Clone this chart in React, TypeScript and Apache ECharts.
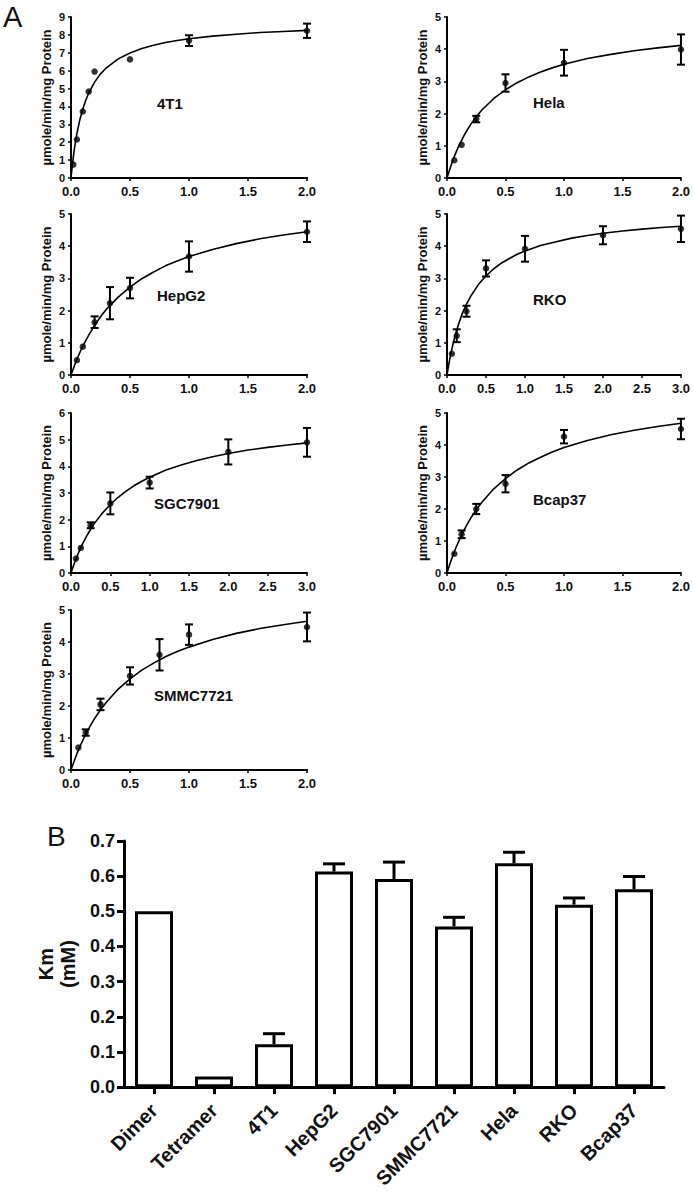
import React, { useEffect, useRef } from "react";
import * as echarts from "echarts";

const FONT = "'Liberation Sans', Arial, Helvetica, sans-serif";

// ---------- Panel A : measured points ----------
const t1X = [0.02, 0.05, 0.1, 0.15, 0.2, 0.5, 1, 2];
const t1Y = [0.75, 2.15, 3.72, 4.83, 5.95, 6.63, 7.68, 8.23];
const t1Err = [0, 0, 0, 0, 0, 0, 0.3, 0.4];

const helaX = [0.0625, 0.125, 0.25, 0.5, 1, 2];
const helaY = [0.55, 1.03, 1.83, 2.95, 3.58, 3.99];
const helaErr = [0, 0, 0.1, 0.27, 0.4, 0.47];

const hepX = [0.05, 0.1, 0.2, 0.33, 0.5, 1, 2];
const hepY = [0.46, 0.88, 1.64, 2.23, 2.7, 3.68, 4.45];
const hepErr = [0, 0, 0.18, 0.5, 0.32, 0.47, 0.32];

const rkoX = [0.0625, 0.125, 0.25, 0.5, 1, 2, 3];
const rkoY = [0.66, 1.22, 1.98, 3.31, 3.92, 4.34, 4.54];
const rkoErr = [0, 0.2, 0.17, 0.25, 0.4, 0.28, 0.41];

const sgcX = [0.0625, 0.125, 0.25, 0.5, 1, 2, 3];
const sgcY = [0.54, 0.94, 1.79, 2.61, 3.39, 4.54, 4.9];
const sgcErr = [0, 0, 0.11, 0.41, 0.22, 0.47, 0.54];

const bcapX = [0.0625, 0.125, 0.25, 0.5, 1, 2];
const bcapY = [0.6, 1.21, 2.0, 2.79, 4.26, 4.5];
const bcapErr = [0, 0.12, 0.16, 0.27, 0.21, 0.32];

const smmcX = [0.0625, 0.125, 0.25, 0.5, 0.75, 1, 2];
const smmcY = [0.7, 1.17, 2.05, 2.94, 3.6, 4.23, 4.47];
const smmcErr = [0, 0.1, 0.18, 0.27, 0.49, 0.32, 0.45];

// ---------- Panel A : fitted curves ----------
const t1FitX = [0, 0.01, 0.02, 0.03, 0.04, 0.05, 0.075, 0.1, 0.125, 0.15, 0.2, 0.25, 0.3, 0.4, 0.5, 0.6, 0.7, 0.8, 0.9, 1.0, 1.2, 1.4, 1.6, 1.8, 2.0];
const t1FitY = [0, 0.64, 1.19, 1.68, 2.1, 2.48, 3.26, 3.86, 4.35, 4.75, 5.36, 5.82, 6.16, 6.66, 6.99, 7.24, 7.42, 7.57, 7.69, 7.78, 7.93, 8.04, 8.13, 8.19, 8.25];

const fitX2 = [0, 0.025, 0.05, 0.075, 0.1, 0.15, 0.2, 0.25, 0.3, 0.4, 0.5, 0.6, 0.7, 0.8, 0.9, 1.0, 1.2, 1.4, 1.6, 1.8, 2.0];
const fitX3 = [0, 0.025, 0.05, 0.075, 0.1, 0.15, 0.2, 0.25, 0.3, 0.4, 0.5, 0.6, 0.7, 0.8, 0.9, 1.0, 1.2, 1.4, 1.6, 1.8, 2.0, 2.25, 2.5, 2.75, 3.0];

const helaFitY = [0, 0.29, 0.55, 0.78, 0.99, 1.35, 1.65, 1.9, 2.12, 2.47, 2.74, 2.96, 3.14, 3.29, 3.42, 3.53, 3.71, 3.84, 3.95, 4.04, 4.12];
const hepFitY = [0, 0.25, 0.49, 0.7, 0.9, 1.24, 1.54, 1.81, 2.04, 2.42, 2.73, 2.99, 3.2, 3.39, 3.54, 3.68, 3.9, 4.08, 4.23, 4.35, 4.45];
const bcapFitY = [0, 0.29, 0.54, 0.78, 0.99, 1.37, 1.7, 1.98, 2.22, 2.63, 2.95, 3.22, 3.44, 3.62, 3.78, 3.92, 4.14, 4.32, 4.46, 4.58, 4.68];
const smmcFitY = [0, 0.26, 0.51, 0.73, 0.93, 1.29, 1.61, 1.88, 2.12, 2.53, 2.85, 3.12, 3.34, 3.54, 3.7, 3.84, 4.08, 4.27, 4.42, 4.54, 4.65];
const rkoFitY = [0, 0.36, 0.67, 0.94, 1.19, 1.59, 1.93, 2.2, 2.43, 2.8, 3.08, 3.3, 3.48, 3.62, 3.75, 3.85, 4.02, 4.14, 4.25, 4.33, 4.4, 4.47, 4.53, 4.58, 4.62];
const sgcFitY = [0, 0.22, 0.42, 0.61, 0.79, 1.11, 1.39, 1.64, 1.87, 2.25, 2.57, 2.84, 3.07, 3.27, 3.44, 3.59, 3.85, 4.05, 4.22, 4.36, 4.48, 4.61, 4.71, 4.8, 4.88];

// ---------- Panel B ----------
const kmCategories = ["Dimer", "Tetramer", "4T1", "HepG2", "SGC7901", "SMMC7721", "Hela", "RKO", "Bcap37"];
const kmValues = [0.5, 0.03, 0.122, 0.613, 0.592, 0.457, 0.637, 0.519, 0.563];
const kmErrors = [0, 0, 0.03, 0.022, 0.048, 0.026, 0.031, 0.019, 0.036];
const kmTicks = [0, 0.1, 0.2, 0.3, 0.4, 0.5, 0.6, 0.7];

const Y_NAME = "\u00b5mole/min/mg Protein";

type Panel = {
  label: string;
  xs: number[];
  ys: number[];
  errs: number[];
  fitX: number[];
  fitY: number[];
  xMax: number;
  yMax: number;
};

const panels: Panel[] = [
  { label: "4T1", xs: t1X, ys: t1Y, errs: t1Err, fitX: t1FitX, fitY: t1FitY, xMax: 2, yMax: 9 },
  { label: "Hela", xs: helaX, ys: helaY, errs: helaErr, fitX: fitX2, fitY: helaFitY, xMax: 2, yMax: 5 },
  { label: "HepG2", xs: hepX, ys: hepY, errs: hepErr, fitX: fitX2, fitY: hepFitY, xMax: 2, yMax: 5 },
  { label: "RKO", xs: rkoX, ys: rkoY, errs: rkoErr, fitX: fitX3, fitY: rkoFitY, xMax: 3, yMax: 5 },
  { label: "SGC7901", xs: sgcX, ys: sgcY, errs: sgcErr, fitX: fitX3, fitY: sgcFitY, xMax: 3, yMax: 6 },
  { label: "Bcap37", xs: bcapX, ys: bcapY, errs: bcapErr, fitX: fitX2, fitY: bcapFitY, xMax: 2, yMax: 5 },
  { label: "SMMC7721", xs: smmcX, ys: smmcY, errs: smmcErr, fitX: fitX2, fitY: smmcFitY, xMax: 2, yMax: 5 },
];

// layout
const colLeft = [71, 447];
const colWidth = [236, 237];
const rowTop = [17, 214, 413, 610];
const rowHeight = [161, 161, 160, 160];
const labelPos = [
  [157, 105],
  [533, 104],
  [157, 297],
  [533, 301],
  [154, 505],
  [533, 501],
  [154, 697],
];

function buildOption() {
  const grid: any[] = [];
  const xAxis: any[] = [];
  const yAxis: any[] = [];
  const series: any[] = [];
  const graphic: any[] = [];

  panels.forEach((p, i) => {
    const col = i % 2;
    const row = Math.floor(i / 2);
    grid.push({ left: colLeft[col], top: rowTop[row], width: colWidth[col], height: rowHeight[row], containLabel: false });
    xAxis.push({
      type: "value",
      gridIndex: i,
      min: 0,
      max: p.xMax,
      interval: 0.5,
      splitLine: { show: false },
      axisLine: { show: true, onZero: false, lineStyle: { color: "#000", width: 2 } },
      axisTick: { show: true, length: 3, lineStyle: { color: "#000", width: 1.5 } },
      axisLabel: {
        color: "#111",
        fontFamily: FONT,
        fontWeight: "bold",
        fontSize: 13,
        margin: 7,
        formatter: (v: number) => v.toFixed(1),
      },
    });
    yAxis.push({
      type: "value",
      gridIndex: i,
      min: 0,
      max: p.yMax,
      interval: 1,
      name: Y_NAME,
      nameLocation: "middle",
      nameGap: 18,
      nameTextStyle: { color: "#111", fontFamily: FONT, fontWeight: "bold", fontSize: 13 },
      splitLine: { show: false },
      axisLine: { show: true, onZero: false, lineStyle: { color: "#000", width: 2 } },
      axisTick: { show: true, length: 3, lineStyle: { color: "#000", width: 1.5 } },
      axisLabel: { color: "#111", fontFamily: FONT, fontWeight: "bold", fontSize: 11, margin: 6 },
    });
    series.push({
      type: "line",
      xAxisIndex: i,
      yAxisIndex: i,
      data: p.fitX.map((x, k) => [x, p.fitY[k]]),
      smooth: false,
      showSymbol: false,
      symbol: "none",
      lineStyle: { color: "#000", width: 1.6, join: "round" },
      z: 2,
    });
    series.push({
      type: "custom",
      xAxisIndex: i,
      yAxisIndex: i,
      data: p.xs.map((x, k) => [x, p.ys[k], p.errs[k]]),
      encode: { x: 0, y: 1 },
      renderItem: (params: any, api: any) => {
        const e = api.value(2);
        if (!e) return null;
        const x = api.value(0);
        const y = api.value(1);
        const t = api.coord([x, y + e]);
        const b = api.coord([x, y - e]);
        const st = { stroke: "#000", lineWidth: 2 };
        return {
          type: "group",
          children: [
            { type: "line", shape: { x1: t[0], y1: t[1], x2: b[0], y2: b[1] }, style: st },
            { type: "line", shape: { x1: t[0] - 4, y1: t[1], x2: t[0] + 4, y2: t[1] }, style: st },
            { type: "line", shape: { x1: b[0] - 4, y1: b[1], x2: b[0] + 4, y2: b[1] }, style: st },
          ],
        };
      },
      z: 3,
    });
    series.push({
      type: "scatter",
      xAxisIndex: i,
      yAxisIndex: i,
      data: p.xs.map((x, k) => [x, p.ys[k]]),
      symbol: "circle",
      symbolSize: 6.5,
      itemStyle: { color: "#000" },
      z: 4,
    });
    graphic.push({
      type: "text",
      left: labelPos[i][0],
      top: labelPos[i][1] - 9,
      style: { text: p.label, fill: "#111", font: `bold 15px ${FONT}` },
    });
  });

  // Panel B
  const bi = panels.length;
  grid.push({ left: 124, top: 841, width: 540, height: 253, containLabel: false });
  xAxis.push({
    type: "category",
    gridIndex: bi,
    data: kmCategories,
    boundaryGap: true,
    axisLine: { show: true, lineStyle: { color: "#000", width: 3 } },
    axisTick: { show: true, alignWithLabel: true, length: 7, lineStyle: { color: "#000", width: 3 } },
    axisLabel: {
      rotate: 45,
      interval: 0,
      margin: 20,
      color: "#111",
      fontFamily: FONT,
      fontWeight: "bold",
      fontSize: 20,
    },
  });
  yAxis.push({
    type: "value",
    gridIndex: bi,
    min: 0,
    max: 0.7,
    interval: 0.1,
    name: "Km\n(mM)",
    nameLocation: "middle",
    nameGap: 44,
    nameTextStyle: { color: "#111", fontFamily: FONT, fontWeight: "bold", fontSize: 20, lineHeight: 22 },
    splitLine: { show: false },
    axisLine: { show: true, lineStyle: { color: "#000", width: 3 } },
    axisTick: { show: true, length: 7, lineStyle: { color: "#000", width: 3 } },
    axisLabel: {
      color: "#111",
      fontFamily: FONT,
      fontWeight: "bold",
      fontSize: 18,
      margin: 9,
      formatter: (v: number) => (kmTicks.some((t) => Math.abs(t - v) < 1e-9) ? v.toFixed(1) : ""),
    },
  });
  series.push({
    type: "bar",
    xAxisIndex: bi,
    yAxisIndex: bi,
    data: kmValues,
    barWidth: 38,
    itemStyle: { color: "#fff", borderColor: "#000", borderWidth: 3 },
    z: 2,
  });
  series.push({
    type: "custom",
    xAxisIndex: bi,
    yAxisIndex: bi,
    data: kmValues.map((v, k) => [k, v, kmErrors[k]]),
    encode: { x: 0, y: 1 },
    renderItem: (params: any, api: any) => {
      const e = api.value(2);
      if (!e) return null;
      const x = api.value(0);
      const y = api.value(1);
      const t = api.coord([x, y + e]);
      const b = api.coord([x, y]);
      const st = { stroke: "#000", lineWidth: 3 };
      return {
        type: "group",
        children: [
          { type: "line", shape: { x1: t[0], y1: t[1], x2: b[0], y2: b[1] }, style: st },
          { type: "line", shape: { x1: t[0] - 11, y1: t[1], x2: t[0] + 11, y2: t[1] }, style: st },
        ],
      };
    },
    z: 3,
  });

  graphic.push({
    type: "text",
    left: 3,
    top: 2,
    style: { text: "A", fill: "#111", font: `normal 29px ${FONT}` },
  });
  graphic.push({
    type: "text",
    left: 47,
    top: 822,
    style: { text: "B", fill: "#111", font: `normal 28px ${FONT}` },
  });

  return {
    animation: false,
    backgroundColor: "#fff",
    grid,
    xAxis,
    yAxis,
    series,
    graphic,
  };
}

export default function App() {
  const ref = useRef<HTMLDivElement>(null);
  useEffect(() => {
    if (!ref.current) return;
    const chart = echarts.init(ref.current, null, { renderer: "svg" });
    chart.setOption(buildOption() as any);
    return () => chart.dispose();
  }, []);
  return (
    <div
      ref={ref}
      style={{ position: "absolute", left: 0, top: 0, width: 693, height: 1191, background: "#fff" }}
    />
  );
}
